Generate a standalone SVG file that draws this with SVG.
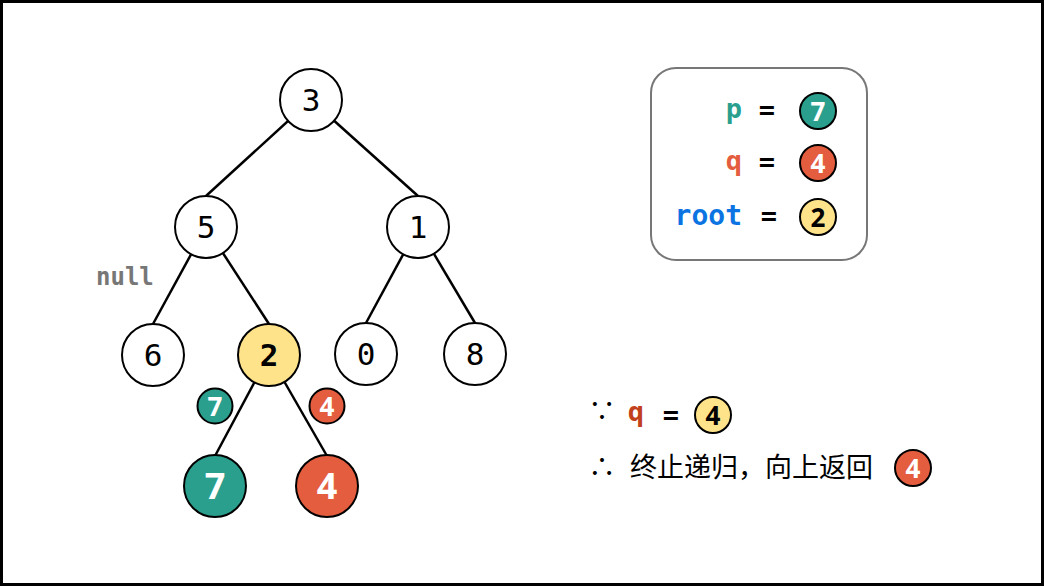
<svg xmlns="http://www.w3.org/2000/svg" width="1044" height="586" viewBox="0 0 1044 586">
<style>
.edge{stroke:#000;stroke-width:2.5;fill:none}
.n{stroke:#000;stroke-width:2;fill:#fff}
.y{fill:#FFE38B}
.t{fill:#2B9F8E}
.r{fill:#E35D3E}
.num{font-family:"DejaVu Sans Mono","Liberation Mono",monospace;font-size:31px;text-anchor:middle;fill:#000}
.bnum{font-family:"Open Sans","Liberation Sans",sans-serif;font-weight:bold;text-anchor:middle}
.sm{font-size:26px}
.lg{font-size:36px}
.mono{font-family:"DejaVu Sans Mono","Liberation Mono",monospace;font-weight:bold}
.cjk{font-family:"Noto Sans CJK SC","Noto Sans",sans-serif;font-size:27px;fill:#000}
</style>
<rect x="1.5" y="1.5" width="1041" height="583" fill="#fff" stroke="#000" stroke-width="3"/>
<g id="connectors">
<line class="edge" x1="311" y1="100" x2="206" y2="196"/>
<line class="edge" x1="311" y1="100" x2="418" y2="196"/>
<line class="edge" x1="206" y1="227" x2="153" y2="324"/>
<line class="edge" x1="206" y1="227" x2="269" y2="324"/>
<line class="edge" x1="418" y1="227" x2="366" y2="323"/>
<line class="edge" x1="418" y1="227" x2="475" y2="323"/>
<line class="edge" x1="269" y1="355" x2="215" y2="456"/>
<line class="edge" x1="269" y1="355" x2="327" y2="456"/>
</g>
<g id="node-3"><circle class="n" cx="311" cy="100" r="31"/><text class="num" x="311" y="111">3</text></g>
<g id="node-5"><circle class="n" cx="206" cy="227" r="31"/><text class="num" x="206" y="238">5</text></g>
<g id="node-1"><circle class="n" cx="418" cy="227" r="31"/><text class="num" x="418" y="238">1</text></g>
<g id="node-6"><circle class="n" cx="153" cy="355" r="31"/><text class="num" x="153" y="366">6</text></g>
<g id="node-2"><circle class="n y" cx="269" cy="355" r="31"/><text class="num" x="269" y="366" font-weight="bold">2</text></g>
<g id="node-0"><circle class="n" cx="366" cy="354" r="31"/><text class="num" x="366" y="365">0</text></g>
<g id="node-8"><circle class="n" cx="475" cy="354" r="31"/><text class="num" x="475" y="365">8</text></g>
<g id="node-7"><circle class="n t" cx="215" cy="486" r="31"/><text class="bnum lg" x="215" y="499" fill="#fff">7</text></g>
<g id="node-4"><circle class="n r" cx="327" cy="486" r="31"/><text class="bnum lg" x="327" y="499" fill="#fff">4</text></g>
<g id="tag-7"><circle class="n t" cx="215" cy="406" r="17.5"/><text class="bnum sm" x="215" y="415.5" fill="#fff">7</text></g>
<g id="tag-4"><circle class="n r" cx="327" cy="406" r="17.5"/><text class="bnum sm" x="327" y="415.5" fill="#fff">4</text></g>
<g id="null-label"><text class="mono" x="96" y="285" font-size="24" fill="#777">null</text></g>
<g id="legend">
<rect x="651" y="68" width="216" height="192" rx="25" ry="25" fill="#fff" stroke="#777" stroke-width="2"/>
<text class="mono" x="742" y="118" font-size="27" fill="#2B9F8E" text-anchor="end">p</text>
<text class="mono" x="767" y="119" font-size="27" fill="#000" text-anchor="middle">=</text>
<circle class="n t" cx="818" cy="111" r="18"/><text class="bnum sm" x="818" y="120.5" fill="#fff">7</text>
<text class="mono" x="742" y="170" font-size="27" fill="#E35D3E" text-anchor="end">q</text>
<text class="mono" x="767" y="171" font-size="27" fill="#000" text-anchor="middle">=</text>
<circle class="n r" cx="818" cy="163" r="18"/><text class="bnum sm" x="818" y="172.5" fill="#fff">4</text>
<text class="mono" x="742" y="225" font-size="28" fill="#0C74E2" text-anchor="end">root</text>
<text class="mono" x="769" y="225" font-size="27" fill="#000" text-anchor="middle">=</text>
<circle class="n y" cx="818" cy="217" r="18"/><text class="bnum sm" x="818" y="226.5" fill="#000">2</text>
</g>
<g id="conclusion">
<text class="cjk" x="602" y="421" text-anchor="middle" font-size="24">∵</text>
<text class="mono" x="636" y="421" font-size="27" fill="#C2411D" text-anchor="middle">q</text>
<text class="mono" x="671" y="424" font-size="27" fill="#000" text-anchor="middle">=</text>
<circle class="n y" cx="713" cy="415" r="18"/><text class="bnum sm" x="713" y="424.5" fill="#000">4</text>
<text class="cjk" x="602" y="477" text-anchor="middle" font-size="24">∴</text>
<text class="cjk" x="630" y="477">终止递归，向上返回</text>
<circle class="n r" cx="913" cy="468" r="18"/><text class="bnum sm" x="913" y="477.5" fill="#fff">4</text>
</g>
</svg>
